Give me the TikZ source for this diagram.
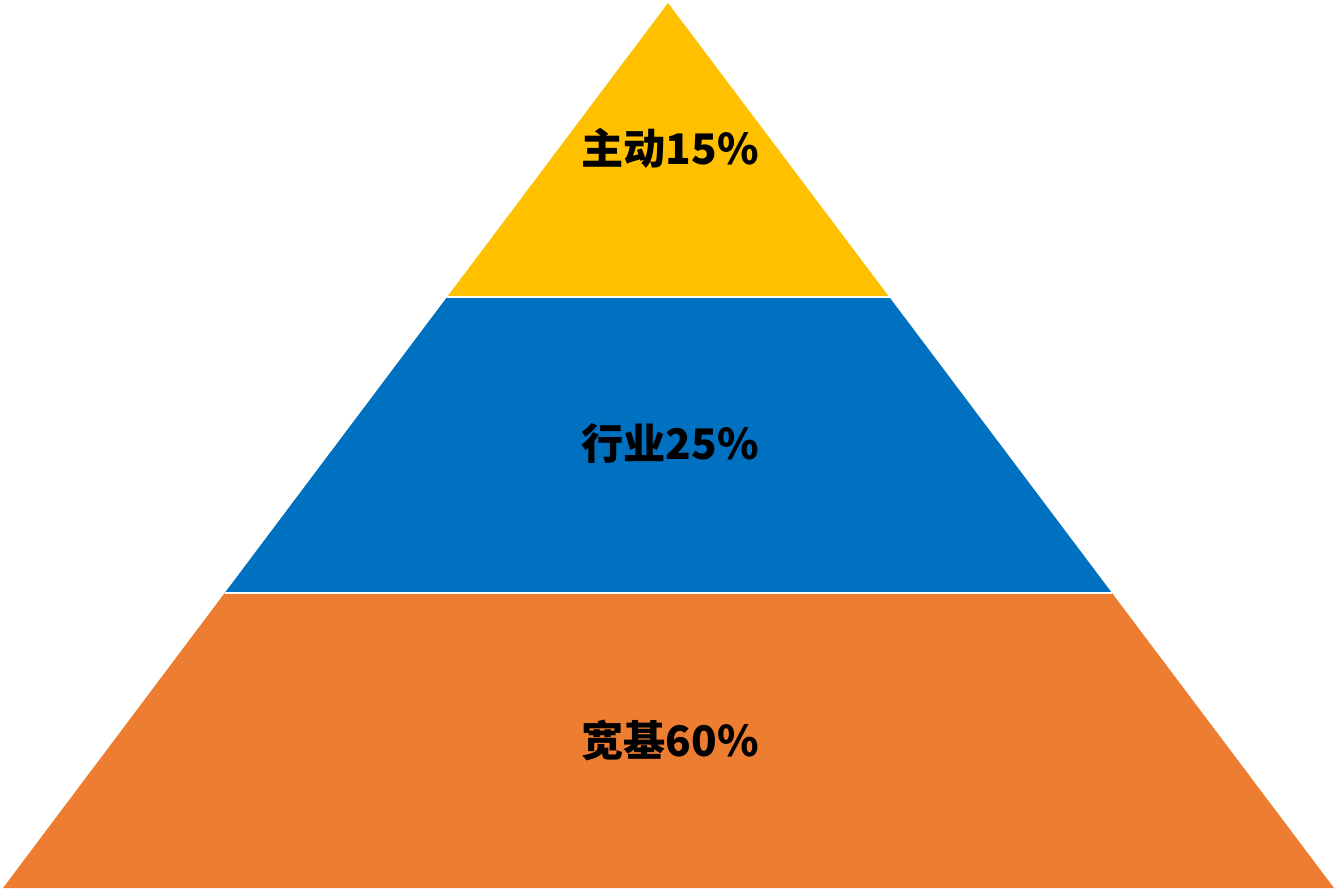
\documentclass[tikz,border=0pt]{standalone}
\usepackage{fontspec}
\newfontfamily\cjk{Noto Sans CJK SC}
\definecolor{topgold}{HTML}{FFC000}
\definecolor{midblue}{HTML}{0070C0}
\definecolor{baseorange}{HTML}{ED7D31}
\tikzset{
    bandlabel/.style={font=\cjk\bfseries\fontsize{24}{28}\selectfont, text=black, inner sep=0pt},
    bandgap/.style={draw=white, line width=1.2pt}
}

\begin{document}
\begin{tikzpicture}[x=0.02cm, y=-0.02cm]
    % Canvas size (pixels of the reference)
    \useasboundingbox (0,0) rectangle (1338,891);

    % Pyramid corners
    \def\apexx{668}
    \def\apexy{3}
    \def\leftx{3}
    \def\rightx{1334}
    \def\basey{888}

    % Draw the bands: top y / bottom y / colour
    \foreach \ytop/\ybot/\col in {3/297/topgold, 297/593/midblue, 593/888/baseorange} {
        \pgfmathsetmacro\ft{(\ytop-\apexy)/(\basey-\apexy)}  % fraction down at top edge
        \pgfmathsetmacro\fb{(\ybot-\apexy)/(\basey-\apexy)}  % fraction down at bottom edge
        \pgfmathsetmacro\tl{\apexx - \ft*(\apexx-\leftx)}
        \pgfmathsetmacro\tr{\apexx + \ft*(\rightx-\apexx)}
        \pgfmathsetmacro\bl{\apexx - \fb*(\apexx-\leftx)}
        \pgfmathsetmacro\br{\apexx + \fb*(\rightx-\apexx)}
        \fill[\col] (\tl,\ytop) -- (\tr,\ytop) -- (\br,\ybot) -- (\bl,\ybot) -- cycle;
    }

    % White gaps between the bands
    \draw[bandgap] (447,297) -- (890,297);
    \draw[bandgap] (225,593) -- (1112,593);

    % Labels
    \node[bandlabel] (active) at (670,148) {主动15\%};
    \node[bandlabel] (sector) at (670,443) {行业25\%};
    \node[bandlabel] (broad) at (670,740) {宽基60\%};
\end{tikzpicture}
\end{document}
